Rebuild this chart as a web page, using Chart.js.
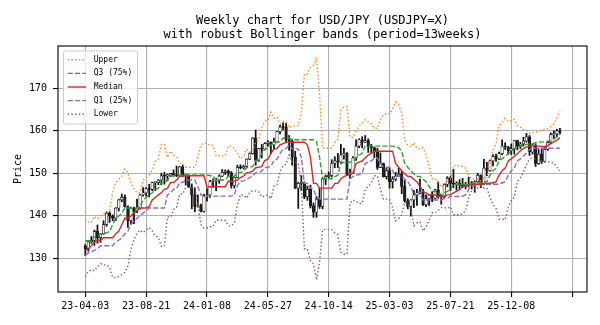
<!DOCTYPE html>
<html>
<head>
<meta charset="utf-8">
<title>USD/JPY weekly</title>
<script src="https://cdn.jsdelivr.net/npm/chart.js@4.4.1/dist/chart.umd.min.js"></script>
<style>
  html, body { margin: 0; padding: 0; background: #fff; }
  canvas { display: block; }
</style>
</head>
<body>
<canvas id="chart" width="600" height="325"></canvas>
<script>
//-------------------
// data (weekly, index 0 = 2023-04-03)
//-------------------
var titleLines = ["Weekly chart for USD/JPY (USDJPY=X)", "with robust Bollinger bands (period=13weeks)"];
var xTickPos = [0, 20, 40, 60, 80, 100, 120, 140, 160];
var xTickLabels = ["23-04-03", "23-08-21", "24-01-08", "24-05-27", "24-10-14", "25-03-03", "25-07-21", "25-12-08", ""];
var yTicks = [130, 140, 150, 160, 170];

var openP = [
  132.8,132.2,133.8,134.2,136.3,134.8,135.7,137.9,140.6,139.9,
  139.4,141.8,143.7,144.3,142.1,138.8,141.8,141.2,141.8,144.9,
  145.4,146.4,146.2,147.8,147.8,148.4,149.4,149.3,149.6,149.9,
  149.6,149.4,151.5,149.6,149.4,146.8,144.9,142.2,142.4,141.0,
  144.6,144.9,148.1,148.2,148.4,149.3,150.2,150.5,150.1,147.1,
  149.0,151.4,151.3,151.6,153.3,154.6,158.3,153.0,155.8,155.7,
  157.0,157.3,156.7,157.4,159.8,160.9,160.8,157.9,157.5,153.8,
  146.5,147.6,147.6,144.4,146.2,142.3,140.8,143.9,142.2,148.7,
  149.2,149.5,152.3,152.9,152.6,154.3,154.7,149.7,150.0,153.6,
  156.4,157.9,157.3,157.7,156.3,156.0,155.2,151.4,152.3,149.2,
  150.6,148.0,148.6,149.3,149.8,146.9,143.5,142.2,143.7,144.9,
  145.4,145.7,142.6,144.0,144.9,144.1,146.1,144.6,144.5,147.4,
  148.8,147.6,147.4,147.7,147.2,146.9,147.1,147.4,147.7,148.0,
  149.5,147.4,151.2,150.6,152.9,154.0,153.4,154.6,156.4,156.2,
  155.3,155.8,157.7,156.5,156.9,157.6,158.6,155.0,156.5,152.3,
  154.5,152.8,155.6,157.2,159.1,159.3,160.0
];
var highP = [
  133.2,134.0,135.1,136.6,137.8,135.8,138.8,140.9,140.9,140.2,
  141.9,143.9,145.1,144.9,142.3,142.0,142.0,143.9,145.0,146.6,
  146.6,147.4,147.9,147.9,148.5,150.0,150.2,149.8,150.0,150.8,
  151.7,151.6,151.9,149.8,149.6,147.5,146.6,144.9,142.7,145.0,
  146.4,148.3,148.7,148.8,149.6,150.9,150.8,150.8,150.4,149.2,
  151.9,152.0,151.9,153.4,154.8,158.4,160.2,155.9,156.8,157.2,
  157.7,157.4,158.3,159.9,161.3,161.9,161.8,158.9,157.9,155.2,
  147.9,149.4,148.0,147.0,147.2,143.0,144.5,146.5,149.0,149.6,
  150.3,153.2,153.9,154.7,156.8,155.9,154.9,151.0,153.9,157.9,
  158.1,158.6,158.9,158.1,156.8,156.2,155.9,154.8,152.4,151.2,
  151.3,149.2,150.2,151.2,150.5,148.3,144.0,143.8,145.9,146.2,
  148.6,146.2,144.9,145.0,145.5,146.2,148.0,144.9,147.5,149.2,
  149.2,150.9,148.0,148.5,148.8,147.9,149.1,148.1,148.2,150.0,
  149.6,153.3,152.6,153.1,154.4,154.5,155.0,157.9,157.2,156.3,
  156.9,157.7,157.8,157.3,158.5,159.4,158.9,157.0,156.9,155.6,
  155.8,156.1,157.6,159.5,160.0,160.4,160.6
];
var lowP = [
  130.6,131.6,133.5,133.0,133.5,133.7,135.6,137.5,138.4,138.8,
  138.8,141.1,143.3,142.0,137.2,138.0,138.1,140.7,141.5,144.6,
  144.6,144.4,145.9,145.9,147.3,147.3,147.4,148.2,149.2,149.3,
  149.2,149.3,149.2,147.2,146.7,141.6,140.9,142.0,140.9,140.8,
  143.4,144.3,146.7,145.9,147.6,149.2,149.7,149.2,146.5,146.5,
  148.9,151.0,151.0,151.5,153.2,154.5,151.9,152.8,153.6,155.5,
  156.4,154.6,155.7,157.2,159.3,160.2,157.4,155.4,151.9,146.4,
  141.7,145.9,144.0,143.6,141.8,139.6,139.6,141.7,141.6,147.3,
  148.9,149.1,151.3,151.3,152.5,153.3,149.5,148.7,149.9,153.0,
  156.0,156.0,157.2,154.9,154.8,153.7,150.9,151.3,149.1,148.6,
  146.5,146.5,148.2,149.2,145.2,143.2,141.6,139.9,141.9,142.4,
  145.1,142.4,142.1,142.4,143.3,143.9,144.1,142.7,144.2,146.8,
  145.9,146.6,146.0,146.2,146.6,146.3,146.7,146.3,145.5,147.9,
  146.6,147.3,149.4,150.5,151.7,152.8,153.2,154.4,155.6,154.4,
  154.4,154.5,155.5,155.8,156.4,157.3,154.2,154.5,151.6,152.1,
  152.3,152.6,155.4,157.0,158.2,158.6,159.2
];
var closeP = [
  132.2,133.8,134.2,136.3,134.8,135.7,137.9,140.6,139.9,139.4,
  141.8,143.7,144.3,142.1,138.8,141.8,141.2,141.8,144.9,145.4,
  146.4,146.2,147.8,147.8,148.4,149.4,149.3,149.6,149.9,149.6,
  149.4,151.5,149.6,149.4,146.8,144.9,142.2,142.4,141.0,144.6,
  144.9,148.1,148.2,148.4,149.3,150.2,150.5,150.1,147.1,149.0,
  151.4,151.3,151.6,153.3,154.6,158.3,153.0,155.8,155.7,157.0,
  157.3,156.7,157.4,159.8,160.9,160.8,157.9,157.5,153.8,146.5,
  147.6,147.6,144.4,146.2,142.3,140.8,143.9,142.2,148.7,149.2,
  149.5,152.3,152.9,152.6,154.3,154.7,149.7,150.0,153.6,156.4,
  157.9,157.3,157.7,156.3,156.0,155.2,151.4,152.3,149.2,150.6,
  148.0,148.6,149.3,149.8,146.9,143.5,142.2,143.7,144.9,145.4,
  145.7,142.6,144.0,144.9,144.1,146.1,144.6,144.5,147.4,148.8,
  147.6,147.4,147.7,147.2,146.9,147.1,147.4,147.7,148.0,149.5,
  147.4,151.2,150.6,152.9,154.0,153.4,154.6,156.4,156.2,155.3,
  155.8,157.7,156.5,156.9,157.6,158.6,155.0,156.5,152.3,154.5,
  152.8,155.6,157.2,159.1,159.3,160.0,159.6
];

var upperBand = [
  139.2,138.5,138.4,139.8,139.2,139.9,140.4,140.4,141.4,145.4,
  147.8,148.5,149.3,151.0,150.1,147.7,146.3,145.4,145.4,148.4,
  149.0,149.6,150.8,152.8,153.3,156.8,156.8,153.7,155.2,154.2,
  153.9,152.3,152.3,151.4,151.4,151.4,151.4,153.8,156.7,157.1,
  157.1,156.6,156.6,154.1,154.1,154.1,154.1,156.4,156.4,155.9,
  154.6,153.4,154.0,155.7,155.0,155.1,157.4,158.0,160.8,162.3,
  162.4,164.4,163.0,163.3,161.6,162.2,162.1,160.7,161.1,161.1,
  161.2,164.1,173.4,173.4,175.0,175.5,177.2,168.7,155.9,155.9,
  155.9,155.9,157.2,157.9,164.9,165.7,165.7,158.5,158.5,159.8,
  161.2,161.8,162.6,162.1,161.7,160.6,160.6,162.6,163.9,163.9,
  163.9,165.1,166.8,166.1,164.2,157.9,156.5,156.2,157.2,155.9,
  155.7,156.0,154.5,151.7,148.7,148.7,148.0,146.7,147.5,148.1,
  148.5,151.8,151.8,151.8,151.6,151.2,149.4,148.7,148.6,148.5,
  148.2,148.9,148.9,152.7,155.4,156.9,161.2,162.0,163.0,162.3,
  162.4,162.7,161.2,160.9,160.3,160.2,159.4,159.5,159.7,159.9,
  160.1,160.3,160.6,161.0,161.6,163.0,164.6
];
var q3Band = [
  134.1,134.1,134.2,135.0,135.0,135.7,135.9,135.9,136.3,137.9,
  139.4,139.9,140.6,141.8,141.8,141.8,141.8,141.8,142.1,143.7,
  144.3,144.9,145.4,146.2,146.4,147.8,147.8,148.4,149.3,149.4,
  149.4,149.6,149.6,149.6,149.6,149.6,149.6,149.6,149.6,149.6,
  149.6,149.4,149.4,148.4,148.4,148.4,148.4,149.3,149.3,149.3,
  150.1,150.2,150.5,151.3,151.4,151.6,153.0,153.3,154.6,155.7,
  155.8,156.7,157.0,157.3,157.4,158.3,158.3,158.3,157.9,157.9,
  157.9,157.9,157.9,157.9,157.9,157.9,157.5,153.8,148.7,148.7,
  148.7,148.7,149.2,149.5,152.3,152.6,152.6,152.6,152.9,153.6,
  154.3,154.7,156.4,156.4,156.4,156.4,156.4,156.4,156.4,156.4,
  156.4,156.4,156.3,156.0,155.2,152.3,151.4,150.6,149.8,149.3,
  149.2,148.6,148.0,146.9,145.7,145.7,145.4,144.9,145.4,145.7,
  146.1,147.4,147.4,147.4,147.4,147.4,147.4,147.6,147.7,147.7,
  147.7,148.0,148.0,149.5,150.6,151.2,152.9,153.4,154.0,154.6,
  155.3,155.8,156.2,156.4,156.5,156.8,156.9,157.0,157.2,157.3,
  157.4,157.4,157.5,157.6,158.1,158.6,159.3
];
var medianBand = [
  131.8,132.2,132.9,133.8,134.1,134.2,134.8,134.8,134.8,134.8,
  135.7,136.3,137.9,139.4,139.4,139.9,140.6,141.2,141.8,141.8,
  141.8,142.1,143.7,144.3,144.9,145.4,146.2,146.4,147.8,147.8,
  148.4,149.3,149.4,149.4,149.4,149.4,149.4,149.4,149.4,149.4,
  146.8,146.8,146.8,146.8,146.8,146.8,146.8,148.1,148.1,148.2,
  148.4,149.0,149.3,150.1,150.2,150.5,151.3,151.4,151.6,153.0,
  153.3,154.6,155.7,155.8,156.7,157.0,157.3,157.4,157.3,157.3,
  157.3,157.3,157.3,156.7,153.8,147.6,147.6,146.5,146.5,146.5,
  146.5,146.5,147.6,147.6,148.7,149.2,149.5,149.7,150.0,152.3,
  152.6,152.9,153.6,154.3,154.7,155.2,155.2,155.2,155.2,155.2,
  155.2,155.2,152.3,151.4,150.6,149.8,149.3,149.2,148.6,148.0,
  146.9,145.7,145.4,144.9,144.9,144.9,144.6,144.5,144.6,144.9,
  144.9,145.4,145.7,146.1,146.9,147.1,147.2,147.4,147.4,147.4,
  147.4,147.6,147.6,147.7,147.7,148.0,149.5,150.6,151.2,152.9,
  153.4,154.0,154.6,155.3,155.8,156.2,156.4,156.5,156.5,156.4,
  156.3,156.3,156.5,157.0,157.4,157.8,158.4
];
var q1Band = [
  130.7,131.2,131.4,131.8,132.2,132.9,132.9,132.9,132.9,132.9,
  133.8,134.2,134.8,135.7,136.3,137.9,138.8,139.4,139.9,140.6,
  141.2,141.8,141.8,141.8,141.8,141.8,141.8,144.9,145.4,146.2,
  146.4,147.8,147.8,148.4,148.4,148.4,148.4,146.8,144.9,144.6,
  144.6,144.6,144.6,144.6,144.6,144.6,144.6,144.6,144.6,144.9,
  147.1,148.1,148.2,148.4,149.0,149.3,150.1,150.2,150.5,151.3,
  151.4,151.6,153.0,153.3,154.6,155.7,155.8,156.7,155.8,155.8,
  155.7,153.8,147.6,147.6,146.5,146.2,144.4,143.9,143.9,143.9,
  143.9,143.9,143.9,143.9,143.9,143.9,143.9,148.7,149.2,149.5,
  149.7,150.0,152.3,152.6,152.9,153.6,153.6,152.3,151.4,151.4,
  151.4,150.6,149.3,149.3,149.2,148.6,148.0,146.9,144.9,144.9,
  144.9,143.7,143.7,143.7,143.7,143.7,143.7,143.7,144.0,144.1,
  144.5,144.5,144.5,144.5,144.6,144.9,146.1,146.9,147.1,147.2,
  147.4,147.4,147.4,147.4,147.4,147.4,147.4,147.7,148.0,149.5,
  150.6,151.2,152.9,153.4,154.0,154.8,155.6,155.9,155.9,155.9,
  155.9,155.9,155.9,155.9,155.9,155.9,155.9
];
var lowerBand = [
  125.6,126.9,127.2,127.0,128.0,128.7,128.4,128.4,127.8,125.4,
  125.4,125.7,126.1,126.6,128.1,132.1,134.3,135.8,136.6,136.0,
  136.6,137.2,136.4,135.2,134.9,132.8,132.8,139.7,139.6,141.4,
  141.9,145.1,145.1,146.6,146.6,146.6,146.6,142.6,137.9,137.1,
  137.1,137.4,137.4,138.9,138.9,138.9,138.9,137.6,137.6,138.3,
  142.6,145.0,144.8,144.1,145.4,145.9,145.8,145.6,144.4,144.7,
  144.8,144.0,147.0,147.3,150.4,151.8,152.1,154.3,152.7,152.7,
  152.4,147.7,132.2,132.2,129.4,128.7,124.8,129.1,136.7,136.7,
  136.7,136.7,136.0,135.5,131.3,130.9,130.9,142.9,143.7,143.4,
  142.8,143.0,146.2,146.9,147.7,149.4,149.4,146.2,143.9,143.9,
  143.9,141.9,138.8,139.3,140.2,143.1,142.9,141.4,137.6,138.3,
  138.5,136.4,137.3,138.9,140.7,140.7,141.2,141.9,141.9,141.7,
  142.1,140.2,140.2,140.2,140.4,141.2,144.2,145.9,146.2,146.5,
  147.0,146.5,146.5,144.3,142.6,141.7,139.2,139.2,139.0,141.9,
  143.6,144.3,148.0,148.9,150.3,152.0,153.4,153.6,153.3,153.0,
  152.9,152.8,152.7,152.6,152.4,151.5,150.6
];

//-------------------
// helpers
//-------------------
var fontMono = '"DejaVu Sans Mono", "Liberation Mono", monospace';

function pts(arr) {
  return arr.map(function (v, i) { return { x: i, y: v }; });
}

var wickData = lowP.map(function (v, i) { return { x: i, y: [lowP[i], highP[i]] }; });
var bodyData = openP.map(function (v, i) { return { x: i, y: [openP[i], closeP[i]] }; });

function bodyColor(ctx) {
  var i = ctx.dataIndex;
  return closeP[i] >= openP[i] ? '#ffffff' : '#222222';
}

function bandLine(label, arr, color, dash) {
  return {
    type: 'line',
    label: label,
    data: pts(arr),
    borderColor: color,
    borderWidth: 1.4,
    borderDash: dash,
    pointRadius: 0,
    fill: false,
    tension: 0,
    order: 0
  };
}

//-------------------
// title, frame, legend
//-------------------
var framePlugin = {
  id: 'frame',
  afterDatasetsDraw: function (chart) {
    var a = chart.chartArea;
    var c = chart.ctx;
    c.save();
    c.strokeStyle = '#000';
    c.lineWidth = 1.1;
    c.strokeRect(a.left, a.top, a.right - a.left, a.bottom - a.top);
    c.restore();
  },
  afterDraw: function (chart) {
    var a = chart.chartArea;
    var c = chart.ctx;
    c.save();
    c.fillStyle = '#000';
    c.font = '12px ' + fontMono;
    c.textAlign = 'center';
    c.textBaseline = 'alphabetic';
    var cx = (a.left + a.right) / 2;
    c.fillText(titleLines[0], cx, 24);
    c.fillText(titleLines[1], cx, 38);

    // legend box
    var bx = a.left + 5.5, by = a.top + 5, bw = 74, bh = 73, r = 2;
    c.beginPath();
    c.moveTo(bx + r, by);
    c.arcTo(bx + bw, by, bx + bw, by + bh, r);
    c.arcTo(bx + bw, by + bh, bx, by + bh, r);
    c.arcTo(bx, by + bh, bx, by, r);
    c.arcTo(bx, by, bx + bw, by, r);
    c.closePath();
    c.fillStyle = 'rgba(255,255,255,0.8)';
    c.fill();
    c.strokeStyle = '#cccccc';
    c.lineWidth = 1;
    c.stroke();

    var lines = chart.data.datasets.filter(function (d) { return d.type === 'line'; });
    c.font = '8px ' + fontMono;
    c.textAlign = 'left';
    c.textBaseline = 'middle';
    lines.forEach(function (d, k) {
      var y = by + 8.7 + k * 13.65;
      c.setLineDash(d.borderDash || []);
      c.strokeStyle = d.borderColor;
      c.lineWidth = d.borderWidth;
      c.beginPath();
      c.moveTo(bx + 4.2, y);
      c.lineTo(bx + 22.5, y);
      c.stroke();
      c.setLineDash([]);
      c.fillStyle = '#000';
      c.fillText(d.label, bx + 30.2, y);
    });
    c.restore();
  }
};

//-------------------
// chart
//-------------------
var ctx = document.getElementById('chart').getContext('2d');

var chart = new Chart(ctx, {
  type: 'bar',
  data: {
    datasets: [
      bandLine('Upper', upperBand, '#ff7f0e', [1.4, 2.3]),
      bandLine('Q3 (75%)', q3Band, '#2ca02c', [5.1, 2.2]),
      bandLine('Median', medianBand, '#d62728', []),
      bandLine('Q1 (25%)', q1Band, '#9467bd', [5.1, 2.2]),
      bandLine('Lower', lowerBand, '#8c564b', [1.4, 2.3]),
      {
        type: 'bar',
        label: 'wick',
        data: wickData,
        backgroundColor: '#111111',
        barThickness: 1.1,
        grouped: false,
        order: 2
      },
      {
        type: 'bar',
        label: 'body',
        data: bodyData,
        backgroundColor: bodyColor,
        borderColor: '#111111',
        borderWidth: 0.7,
        borderSkipped: false,
        barThickness: 2.6,
        minBarLength: 1,
        grouped: false,
        order: 1
      }
    ]
  },
  options: {
    responsive: false,
    animation: false,
    events: [],
    layout: { padding: { left: 0, right: 13, top: 46, bottom: 0 } },
    plugins: {
      legend: { display: false },
      tooltip: { enabled: false },
      title: { display: false }
    },
    scales: {
      x: {
        type: 'linear',
        min: -8.97,
        max: 164.9,
        offset: false,
        border: { display: false },
        grid: { color: '#b0b0b0', lineWidth: 1.1, tickColor: '#000', tickLength: 5, tickWidth: 1.1, offset: false },
        ticks: {
          autoSkip: false,
          maxRotation: 0,
          padding: 3,
          color: '#000',
          font: { family: fontMono, size: 10 },
          callback: function (value, index) { return xTickLabels[index]; }
        },
        afterBuildTicks: function (scale) {
          scale.ticks = xTickPos.map(function (v) { return { value: v }; });
        },
        afterFit: function (scale) { scale.height = 33; }
      },
      y: {
        type: 'linear',
        min: 122,
        max: 180,
        border: { display: false },
        grid: { color: '#b0b0b0', lineWidth: 1.1, tickColor: '#000', tickLength: 5, tickWidth: 1.1 },
        ticks: {
          padding: 6,
          color: '#000',
          font: { family: fontMono, size: 10 }
        },
        title: {
          display: true,
          text: 'Price',
          color: '#000',
          font: { family: fontMono, size: 10 },
          padding: { top: 12, bottom: 0 }
        },
        afterBuildTicks: function (scale) {
          scale.ticks = yTicks.map(function (v) { return { value: v }; });
        },
        afterFit: function (scale) { scale.width = 58; }
      }
    }
  },
  plugins: [framePlugin]
});
</script>
</body>
</html>
